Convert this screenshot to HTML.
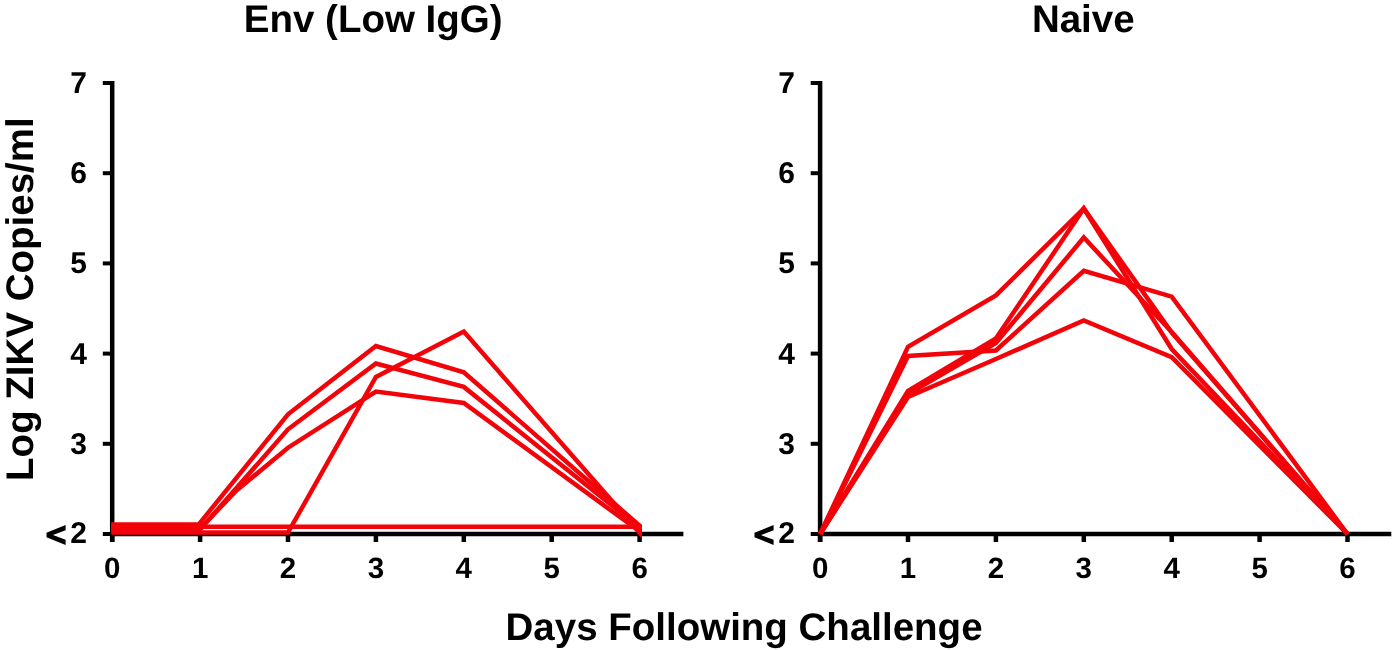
<!DOCTYPE html>
<html><head><meta charset="utf-8"><style>
html,body{margin:0;padding:0;background:#fff;width:1395px;height:650px;overflow:hidden}
svg{display:block}
#w{will-change:transform}
text{font-family:"Liberation Sans",sans-serif;font-weight:bold;fill:#000;text-rendering:geometricPrecision}
.t{font-size:30px}
.tx{font-size:29.5px}
.T{font-size:38.5px}
</style></head><body>
<div id="w"><svg width="1395" height="650" viewBox="0 0 1395 650">
<line x1="112.2" y1="81" x2="112.2" y2="542" stroke="#000" stroke-width="4.5"/>
<line x1="110.2" y1="534.0" x2="683.4" y2="534.0" stroke="#000" stroke-width="4.5"/>
<line x1="102.8" y1="83.0" x2="112.2" y2="83.0" stroke="#000" stroke-width="4"/>
<line x1="102.8" y1="173.2" x2="112.2" y2="173.2" stroke="#000" stroke-width="4"/>
<line x1="102.8" y1="263.4" x2="112.2" y2="263.4" stroke="#000" stroke-width="4"/>
<line x1="102.8" y1="353.6" x2="112.2" y2="353.6" stroke="#000" stroke-width="4"/>
<line x1="102.8" y1="443.8" x2="112.2" y2="443.8" stroke="#000" stroke-width="4"/>
<line x1="102.8" y1="534.0" x2="112.2" y2="534.0" stroke="#000" stroke-width="4"/>
<line x1="112.2" y1="534.0" x2="112.2" y2="542" stroke="#000" stroke-width="4.5"/>
<line x1="200.1" y1="534.0" x2="200.1" y2="542" stroke="#000" stroke-width="4.5"/>
<line x1="288.0" y1="534.0" x2="288.0" y2="542" stroke="#000" stroke-width="4.5"/>
<line x1="375.9" y1="534.0" x2="375.9" y2="542" stroke="#000" stroke-width="4.5"/>
<line x1="463.8" y1="534.0" x2="463.8" y2="542" stroke="#000" stroke-width="4.5"/>
<line x1="551.7" y1="534.0" x2="551.7" y2="542" stroke="#000" stroke-width="4.5"/>
<line x1="639.6" y1="534.0" x2="639.6" y2="542" stroke="#000" stroke-width="4.5"/>
<text x="87.0" y="93.0" text-anchor="end" class="t">7</text>
<text x="87.0" y="183.2" text-anchor="end" class="t">6</text>
<text x="87.0" y="273.4" text-anchor="end" class="t">5</text>
<text x="87.0" y="363.6" text-anchor="end" class="t">4</text>
<text x="87.0" y="453.8" text-anchor="end" class="t">3</text>
<text x="87.0" y="543.0" text-anchor="end" class="t">2</text>
<path transform="translate(0.0,0)" d="M65.6,525 L65.6,530.3 L53,535 L65.6,539.8 L65.6,545 L46.5,537.2 L46.5,532.8 Z" fill="#000"/>
<text x="112.2" y="577.6" text-anchor="middle" class="tx">0</text>
<text x="200.1" y="577.6" text-anchor="middle" class="tx">1</text>
<text x="288.0" y="577.6" text-anchor="middle" class="tx">2</text>
<text x="375.9" y="577.6" text-anchor="middle" class="tx">3</text>
<text x="463.8" y="577.6" text-anchor="middle" class="tx">4</text>
<text x="551.7" y="577.6" text-anchor="middle" class="tx">5</text>
<text x="639.6" y="577.6" text-anchor="middle" class="tx">6</text>
<line x1="820.1" y1="81" x2="820.1" y2="542" stroke="#000" stroke-width="4.5"/>
<line x1="818.1" y1="534.0" x2="1391.3" y2="534.0" stroke="#000" stroke-width="4.5"/>
<line x1="810.7" y1="83.0" x2="820.1" y2="83.0" stroke="#000" stroke-width="4"/>
<line x1="810.7" y1="173.2" x2="820.1" y2="173.2" stroke="#000" stroke-width="4"/>
<line x1="810.7" y1="263.4" x2="820.1" y2="263.4" stroke="#000" stroke-width="4"/>
<line x1="810.7" y1="353.6" x2="820.1" y2="353.6" stroke="#000" stroke-width="4"/>
<line x1="810.7" y1="443.8" x2="820.1" y2="443.8" stroke="#000" stroke-width="4"/>
<line x1="810.7" y1="534.0" x2="820.1" y2="534.0" stroke="#000" stroke-width="4"/>
<line x1="820.1" y1="534.0" x2="820.1" y2="542" stroke="#000" stroke-width="4.5"/>
<line x1="908.0" y1="534.0" x2="908.0" y2="542" stroke="#000" stroke-width="4.5"/>
<line x1="995.9" y1="534.0" x2="995.9" y2="542" stroke="#000" stroke-width="4.5"/>
<line x1="1083.8" y1="534.0" x2="1083.8" y2="542" stroke="#000" stroke-width="4.5"/>
<line x1="1171.7" y1="534.0" x2="1171.7" y2="542" stroke="#000" stroke-width="4.5"/>
<line x1="1259.6" y1="534.0" x2="1259.6" y2="542" stroke="#000" stroke-width="4.5"/>
<line x1="1347.5" y1="534.0" x2="1347.5" y2="542" stroke="#000" stroke-width="4.5"/>
<text x="795.0" y="93.0" text-anchor="end" class="t">7</text>
<text x="795.0" y="183.2" text-anchor="end" class="t">6</text>
<text x="795.0" y="273.4" text-anchor="end" class="t">5</text>
<text x="795.0" y="363.6" text-anchor="end" class="t">4</text>
<text x="795.0" y="453.8" text-anchor="end" class="t">3</text>
<text x="795.0" y="543.0" text-anchor="end" class="t">2</text>
<path transform="translate(708.0,0)" d="M65.6,525 L65.6,530.3 L53,535 L65.6,539.8 L65.6,545 L46.5,537.2 L46.5,532.8 Z" fill="#000"/>
<text x="820.1" y="577.6" text-anchor="middle" class="tx">0</text>
<text x="908.0" y="577.6" text-anchor="middle" class="tx">1</text>
<text x="995.9" y="577.6" text-anchor="middle" class="tx">2</text>
<text x="1083.8" y="577.6" text-anchor="middle" class="tx">3</text>
<text x="1171.7" y="577.6" text-anchor="middle" class="tx">4</text>
<text x="1259.6" y="577.6" text-anchor="middle" class="tx">5</text>
<text x="1347.5" y="577.6" text-anchor="middle" class="tx">6</text>
<defs><clipPath id="cl"><rect x="0" y="0" width="641.9" height="650"/></clipPath></defs>
<g clip-path="url(#cl)">
<polyline points="111.2,524.6 198.6,524.6 288.0,414.3 375.9,346.0 463.8,372.3 642.6,528.3" fill="none" stroke="rgb(242,3,9)" stroke-width="4.5" stroke-linejoin="miter" stroke-miterlimit="10"/>
<polyline points="111.2,529.5 200.1,529.5 288.0,429.3 375.9,363.5 463.8,386.9 642.6,530.0" fill="none" stroke="rgb(242,3,9)" stroke-width="4.5" stroke-linejoin="miter" stroke-miterlimit="10"/>
<polyline points="111.2,528.5 200.1,528.5 236.5,490.5 288.0,447.7 375.9,391.5 463.8,403.0 642.6,533.5" fill="none" stroke="rgb(242,3,9)" stroke-width="4.5" stroke-linejoin="miter" stroke-miterlimit="10"/>
<polyline points="111.2,532.6 200.1,532.6 288.0,532.6 375.9,377.0 463.8,331.5 642.6,536.0" fill="none" stroke="rgb(242,3,9)" stroke-width="4.5" stroke-linejoin="miter" stroke-miterlimit="10"/>
<polyline points="111.2,526.8 642.6,526.8" fill="none" stroke="rgb(242,3,9)" stroke-width="4.5" stroke-linejoin="miter" stroke-miterlimit="10"/>
</g>
<polyline points="820.1,534.0 908.0,346.9 995.9,295.4 1083.8,208.5 1171.7,332.5 1347.5,534.0" fill="none" stroke="rgb(242,3,9)" stroke-width="4.5" stroke-linejoin="miter" stroke-miterlimit="10"/>
<polyline points="820.1,534.0 908.0,391.0 995.9,338.5 1083.8,208.5 1171.7,349.0 1347.5,534.0" fill="none" stroke="rgb(242,3,9)" stroke-width="4.5" stroke-linejoin="miter" stroke-miterlimit="10"/>
<polyline points="820.1,534.0 908.0,394.0 995.9,343.0 1083.8,237.5 1171.7,332.0 1347.5,534.0" fill="none" stroke="rgb(242,3,9)" stroke-width="4.5" stroke-linejoin="miter" stroke-miterlimit="10"/>
<polyline points="820.1,534.0 908.0,356.0 995.9,350.5 1083.8,270.8 1171.7,296.7 1347.5,534.0" fill="none" stroke="rgb(242,3,9)" stroke-width="4.5" stroke-linejoin="miter" stroke-miterlimit="10"/>
<polyline points="820.1,534.0 908.0,397.0 995.9,359.0 1083.8,320.5 1171.7,357.2 1347.5,534.0" fill="none" stroke="rgb(242,3,9)" stroke-width="4.5" stroke-linejoin="miter" stroke-miterlimit="10"/>
<text class="T" x="243.8" y="32.3">Env (Low IgG)</text>
<text class="T" x="1031.9" y="32.3">Naive</text>
<text class="T" x="505.5" y="639.6">Days Following Challenge</text>
<text class="T" transform="translate(33.3,480.9) rotate(-90)">Log ZIKV Copies/ml</text>
</svg></div>
</body></html>
